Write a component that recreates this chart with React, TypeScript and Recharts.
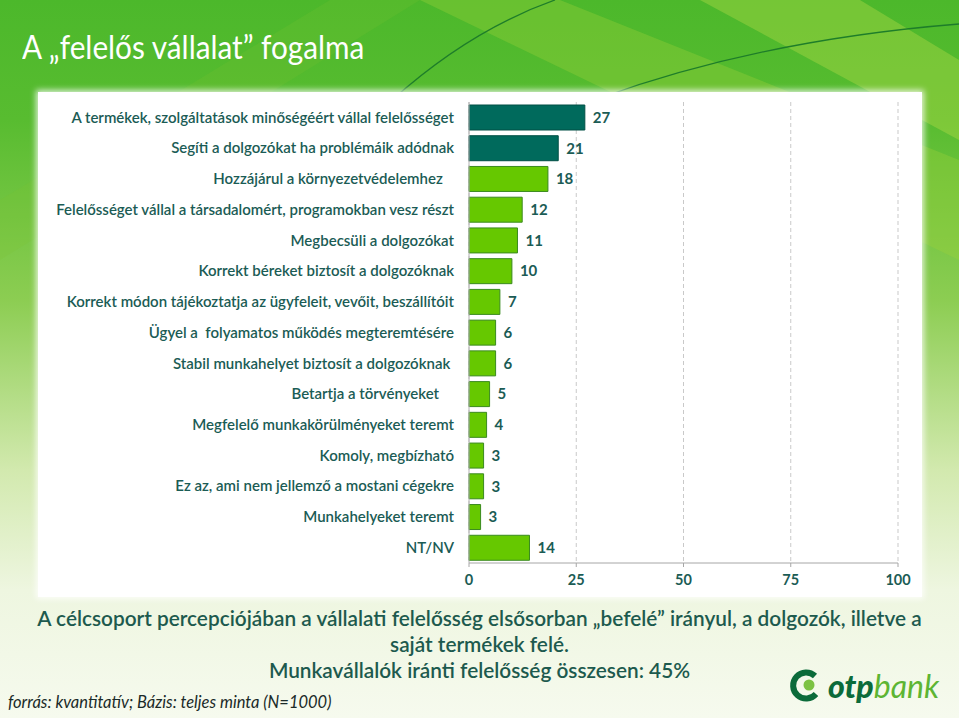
import React from "react";
import { BarChart, Bar, XAxis, YAxis, CartesianGrid, Cell, LabelList } from "recharts";

const categories = [
  "A termékek, szolgáltatások minőségéért vállal felelősséget",
  "Segíti a dolgozókat ha problémáik adódnak",
  "Hozzájárul a környezetvédelemhez\u00a0\u00a0\u00a0",
  "Felelősséget vállal a társadalomért, programokban vesz részt",
  "Megbecsüli a dolgozókat",
  "Korrekt béreket biztosít a dolgozóknak",
  "Korrekt módon tájékoztatja az ügyfeleit, vevőit, beszállítóit",
  "Ügyel a\u00a0 folyamatos működés megteremtésére",
  "Stabil munkahelyet biztosít a dolgozóknak\u00a0",
  "Betartja a törvényeket\u00a0\u00a0\u00a0\u00a0",
  "Megfelelő munkakörülményeket teremt",
  "Komoly, megbízható",
  "Ez az, ami nem jellemző a mostani cégekre",
  "Munkahelyeket teremt",
  "NT/NV",
];
const values = [27, 20.8, 18.4, 12.4, 11.3, 10, 7.2, 6.2, 6.2, 4.8, 4.1, 3.4, 3.4, 2.7, 14.1];
const highlighted = [true, true, false, false, false, false, false, false, false, false, false, false, false, false, false];
const xTicks = [0, 25, 50, 75, 100];

const title = "A „felelős vállalat” fogalma";
const noteLines = [
  "A célcsoport percepciójában a vállalati felelősség elsősorban „befelé” irányul, a dolgozók, illetve a",
  "saját termékek felé.",
  "Munkavállalók iránti felelősség összesen: 45%",
];
const source = "forrás: kvantitatív; Bázis: teljes minta (N=1000)";

const data = categories.map((name, i) => ({ name, value: values[i], hi: highlighted[i] }));

const TEAL = "#1b5c55";
const FONT = "Lato, 'Open Sans', sans-serif";

export default function App() {
  return (
    <div
      style={{
        position: "absolute",
        left: 0,
        top: 0,
        width: 959,
        height: 718,
        overflow: "hidden",
        fontFamily: FONT,
        background:
          "linear-gradient(180deg, #4cb82b 0px, #58bc30 120px, #8ccd52 300px, #d2e9ae 470px, #eef6e0 590px, #f6faee 718px)",
      }}
    >
      <svg width={959} height={718} style={{ position: "absolute", left: 0, top: 0 }}>
        <polygon points="420,0 560,0 959,160 959,260" fill="#9fd23a" opacity={0.35} />
        <polygon points="0,200 330,0 420,0 0,260" fill="#7fc531" opacity={0.2} />
        <polygon points="700,0 860,0 959,60 959,140" fill="#c4e04a" opacity={0.35} />
        <path d="M 392 100 Q 470 30 555 0" stroke="#1e7d2a" strokeWidth={1.3} fill="none" />
        <path d="M 600 98 Q 760 40 959 24" stroke="#1e7d2a" strokeWidth={1.3} fill="none" />
      </svg>
      <div
        style={{
          position: "absolute",
          left: 38,
          top: 92,
          width: 884,
          height: 505,
          background: "#ffffff",
          boxShadow: "0 0 6px 2px rgba(255,255,255,0.8)",
        }}
      />
      <div
        style={{
          position: "absolute",
          left: 22,
          top: 27,
          fontSize: 32,
          color: "#ffffff",
          whiteSpace: "nowrap",
          transform: "scaleX(0.93)",
          transformOrigin: "left center",
          lineHeight: "40px",
        }}
      >
        {title}
      </div>
      <div style={{ position: "absolute", left: 0, top: 0 }}>
        <BarChart
          width={959}
          height={600}
          data={data}
          layout="vertical"
          margin={{ top: 102, right: 61, bottom: 7, left: 0 }}
          barSize={25}
        >
          <CartesianGrid horizontal={false} stroke="#c9c9c9" strokeDasharray="4 3" />
          <XAxis
            type="number"
            domain={[0, 100]}
            ticks={xTicks}
            height={30}
            axisLine={{ stroke: "#a6a6a6" }}
            tickLine={{ stroke: "#a6a6a6" }}
            tickSize={4}
            tickMargin={8}
            tick={{ fill: TEAL, fontSize: 14.5, fontWeight: 700, fontFamily: FONT }}
          />
          <YAxis
            type="category"
            dataKey="name"
            width={469}
            axisLine={{ stroke: "#b0b0b0" }}
            tickLine={false}
            tickMargin={9}
            interval={0}
            tick={{ fill: TEAL, fontSize: 15, fontWeight: 600, fontFamily: FONT }}
          />
          <Bar dataKey="value" isAnimationActive={false}>
            {data.map((d, i) => (
              <Cell
                key={i}
                fill={d.hi ? "#006a5c" : "#66c800"}
                stroke={d.hi ? "#004f45" : "#3a8a1e"}
                strokeWidth={1}
              />
            ))}
            <LabelList
              dataKey="value"
              position="right"
              offset={8}
              formatter={(v: number) => Math.round(v)}
              style={{ fill: TEAL, fontSize: 15, fontWeight: 700, fontFamily: FONT }}
            />
          </Bar>
        </BarChart>
      </div>
      <div
        style={{
          position: "absolute",
          left: 0,
          top: 605,
          width: 959,
          textAlign: "center",
          color: "#1d5a4e",
          fontSize: 20.8,
          fontWeight: 600,
          lineHeight: "26px",
        }}
      >
        {noteLines.map((l, i) => (
          <div key={i} style={{ whiteSpace: "nowrap" }}>{l}</div>
        ))}
      </div>
      <div
        style={{
          position: "absolute",
          left: 8,
          top: 692,
          fontSize: 16.5,
          fontStyle: "italic",
          color: "#1a2a28",
          whiteSpace: "nowrap",
        }}
      >
        {source}
      </div>
      <div style={{ position: "absolute", left: 788, top: 668, display: "flex", alignItems: "center" }}>
        <svg width={36} height={36}>
          <path d="M 27 8 A 13 13 0 1 0 28 26" stroke="#0b6b3a" strokeWidth={6} fill="none" />
          <circle cx={21} cy={17} r={5.5} fill="#7cc242" />
        </svg>
        <span style={{ fontSize: 32, fontWeight: 900, fontStyle: "italic", color: "#0b6b3a", marginLeft: 4, lineHeight: "36px" }}>
          otp
        </span>
        <span style={{ fontSize: 32, fontWeight: 400, fontStyle: "italic", color: "#5db533", lineHeight: "36px" }}>
          bank
        </span>
      </div>
    </div>
  );
}
